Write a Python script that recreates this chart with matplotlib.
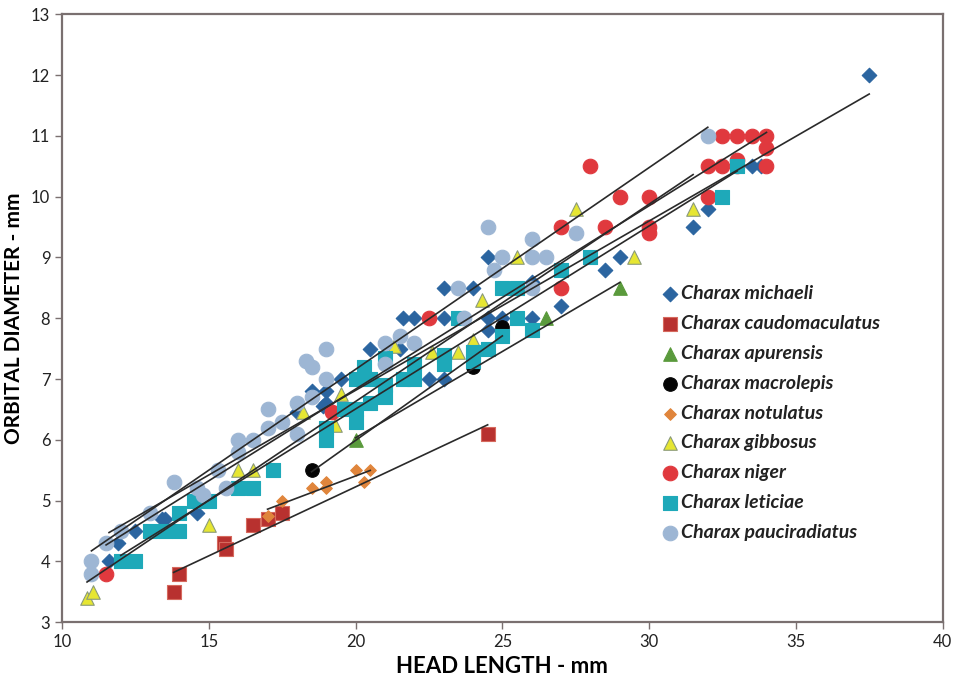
import numpy as np
import matplotlib
matplotlib.use('Agg')
import matplotlib.pyplot as plt

# head length (x) / orbital diameter (y)
michaeli_x = [11.6, 11.9, 12.5, 13.4, 13.5, 14.6, 18.0, 18.5, 18.9, 19.0, 19.0, 19.5, 20.5, 21.5,
              21.6, 22.0, 22.5, 23.0, 23.0, 23.0, 24.0, 24.5, 24.5, 24.5, 25.0, 26.0, 26.0, 27.0,
              28.5, 29.0, 31.5, 32.0, 33.5, 33.8, 37.5]
michaeli_y = [4.0, 4.3, 4.5, 4.7, 4.7, 4.8, 6.45, 6.8, 6.55, 6.8, 6.6, 7.0, 7.5, 7.5,
              8.0, 8.0, 7.0, 7.0, 8.0, 8.5, 8.5, 9.0, 8.0, 7.8, 8.0, 8.0, 8.6, 8.2,
              8.8, 9.0, 9.5, 9.8, 10.5, 10.5, 12.0]

caudo_x = [13.8, 14.0, 15.5, 15.6, 16.5, 17.0, 17.5, 24.5]
caudo_y = [3.5, 3.8, 4.3, 4.2, 4.6, 4.7, 4.8, 6.1]

apurensis_x = [20.0, 26.5, 29.0]
apurensis_y = [6.0, 8.0, 8.5]

macrolepis_x = [18.5, 24.0, 25.0]
macrolepis_y = [5.5, 7.2, 7.85]

notulatus_x = [17.0, 17.5, 18.5, 19.0, 19.0, 20.0, 20.5, 20.3]
notulatus_y = [4.75, 5.0, 5.2, 5.3, 5.2, 5.5, 5.5, 5.3]

gibbosus_x = [10.85, 11.05, 15.0, 16.0, 16.5, 18.2, 19.3, 19.5, 21.3, 22.6, 23.5, 24.0,
              24.3, 25.5, 27.5, 29.5, 31.5]
gibbosus_y = [3.4, 3.5, 4.6, 5.5, 5.5, 6.45, 6.25, 6.75, 7.55, 7.45, 7.45, 7.65,
              8.3, 9.0, 9.8, 9.0, 9.8]

niger_x = [11.5, 19.2, 22.5, 27.0, 27.0, 28.0, 28.5, 29.0, 30.0, 30.0, 30.0, 32.0, 32.0,
           32.5, 32.5, 33.0, 33.0, 33.0, 33.5, 34.0, 34.0, 34.0]
niger_y = [3.8, 6.45, 8.0, 8.5, 9.5, 10.5, 9.5, 10.0, 10.0, 9.5, 9.4, 10.0, 10.5,
           10.5, 11.0, 11.0, 10.6, 10.5, 11.0, 11.0, 10.8, 10.5]

leticiae_x = [12.0, 12.5, 13.0, 13.5, 14.0, 14.0, 14.5, 15.0, 16.0, 16.5, 17.2, 19.0,
              19.0, 19.6, 20.0, 20.0, 20.0, 20.3, 20.5, 20.5, 21.0, 21.0, 21.0, 21.6,
              22.0, 22.0, 23.0, 23.0, 23.5, 24.0, 24.0, 24.5, 25.0, 25.0, 25.5, 25.5,
              26.0, 27.0, 28.0, 32.5, 33.0]
leticiae_y = [4.0, 4.0, 4.5, 4.5, 4.5, 4.8, 5.0, 5.0, 5.2, 5.2, 5.5, 6.0,
              6.2, 6.5, 6.5, 6.3, 7.0, 7.2, 7.0, 6.6, 7.35, 6.9, 6.7, 7.0,
              7.0, 7.25, 7.4, 7.25, 8.0, 7.3, 7.45, 7.5, 7.7, 8.5, 8.5, 8.0,
              7.8, 8.8, 9.0, 10.0, 10.5]

paucir_x = [11.0, 11.0, 11.5, 12.0, 13.0, 13.8, 14.6, 14.8, 15.3, 15.6, 16.0, 16.0, 16.5,
            17.0, 17.0, 17.5, 18.0, 18.0, 18.3, 18.5, 18.5, 19.0, 19.0, 21.0, 21.5, 22.0,
            21.0, 23.5, 23.7, 24.5, 24.7, 25.0, 26.0, 26.0, 26.5, 26.0, 27.5, 32.0]
paucir_y = [3.8, 4.0, 4.3, 4.5, 4.8, 5.3, 5.2, 5.1, 5.5, 5.2, 5.8, 6.0, 6.0,
            6.5, 6.2, 6.3, 6.6, 6.1, 7.3, 7.2, 6.7, 7.5, 7.0, 7.6, 7.7, 7.6,
            7.25, 8.5, 8.0, 9.5, 8.8, 9.0, 9.3, 9.0, 9.0, 8.5, 9.4, 11.0]

series = [
    ('Charax michaeli', michaeli_x, michaeli_y, 'D', '#2b65a0', '#2b65a0', 55),
    ('Charax caudomaculatus', caudo_x, caudo_y, 's', '#b8312f', '#d66a5e', 90),
    ('Charax apurensis', apurensis_x, apurensis_y, '^', '#5a9a3c', '#5a9a3c', 95),
    ('Charax macrolepis', macrolepis_x, macrolepis_y, 'o', '#050505', '#050505', 95),
    ('Charax notulatus', notulatus_x, notulatus_y, 'D', '#e0853c', '#e0853c', 35),
    ('Charax gibbosus', gibbosus_x, gibbosus_y, '^', '#e6e632', '#8a9a7a', 95),
    ('Charax niger', niger_x, niger_y, 'o', '#e0393e', '#e0393e', 110),
    ('Charax leticiae', leticiae_x, leticiae_y, 's', '#1ea9b9', '#1ea9b9', 95),
    ('Charax pauciradiatus', paucir_x, paucir_y, 'o', '#9db6d4', '#9db6d4', 110),
]

plt.rcParams['font.family'] = ['Lato', 'DejaVu Sans']

fig = plt.figure(figsize=(9.55, 6.8), dpi=100)
ax = fig.add_axes([0.065, 0.085, 0.922, 0.894])

for name, xs, ys, mk, fc, ec, sz in series:
    ax.scatter(xs, ys, marker=mk, s=sz, c=fc, edgecolors=ec, linewidths=0.8,
               label=name, zorder=2)

# linear trend line for each species, over its own range
for name, xs, ys, mk, fc, ec, sz in series:
    xs = np.array(xs)
    ys = np.array(ys)
    k, b = np.polyfit(xs, ys, 1)
    xx = np.array([xs.min(), xs.max()])
    ax.plot(xx, k * xx + b, color='#2a2a2a', lw=1.2, zorder=3)

ax.set_xlim(10, 40)
ax.set_ylim(3, 13)
ax.set_xticks(range(10, 41, 5))
ax.set_yticks(range(3, 14))
for sp in ax.spines.values():
    sp.set_color('#7a7070')
    sp.set_linewidth(1.6)
ax.tick_params(direction='out', length=5, width=1, color='#7a7070',
               labelsize=12, colors='#222222')
ax.set_xlabel('HEAD LENGTH - mm', fontsize=16, fontweight='bold', labelpad=4)
ax.set_ylabel('ORBITAL DIAMETER - mm', fontsize=15, fontweight='bold', labelpad=5)

leg = ax.legend(loc='upper left', bbox_to_anchor=(0.67, 0.567), frameon=False,
                handletextpad=0.1, handlelength=1.0, labelspacing=0.66,
                prop={'size': 14, 'style': 'italic', 'weight': 'bold'},
                borderaxespad=0)
for t in leg.get_texts():
    t.set_color('#222222')

fig.savefig('out.png', dpi=100)
